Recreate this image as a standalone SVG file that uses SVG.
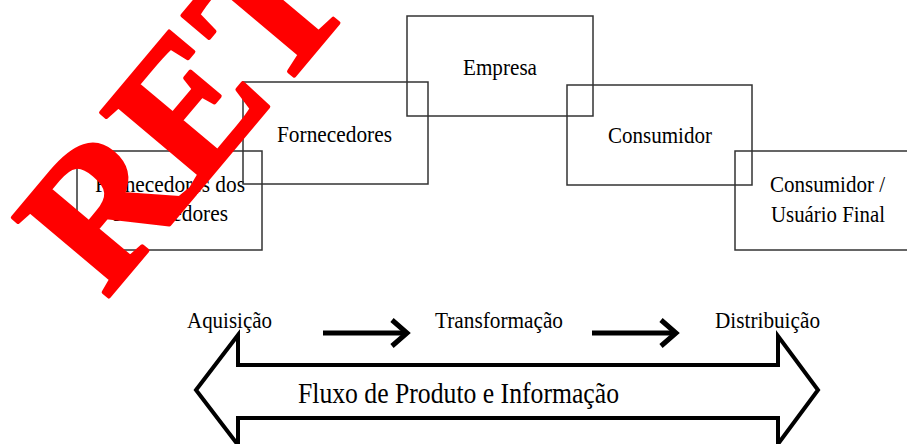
<svg xmlns="http://www.w3.org/2000/svg" width="907" height="444" viewBox="0 0 907 444">
<style>
.box{fill:none;stroke:#333;stroke-width:1.5}
.t{font-family:"Liberation Serif","Times New Roman",serif;font-size:24px;fill:#000}
.big{font-family:"Liberation Serif","Times New Roman",serif;font-size:29px;fill:#000}
.arr{fill:none;stroke:#000;stroke-width:5}
.flow{fill:#fff;stroke:#000;stroke-width:4;stroke-linejoin:miter}
.wm{font-family:"Liberation Serif","Times New Roman",serif;font-weight:bold;font-size:190px;fill:#f00;stroke:#f00;stroke-width:4;stroke-linejoin:round}
</style>
<rect width="907" height="444" fill="#fff"/>
<g id="fornecedores-dos-fornecedores">
<rect class="box" x="77" y="151" width="185" height="99"/>
<text class="t" x="95" y="192" textLength="150" lengthAdjust="spacingAndGlyphs">Fornecedores dos</text>
<text class="t" x="113" y="221" textLength="115" lengthAdjust="spacingAndGlyphs">Fornecedores</text>
</g>
<g id="fornecedores">
<rect class="box" x="243" y="82" width="185" height="102"/>
<text class="t" x="277" y="142" textLength="115" lengthAdjust="spacingAndGlyphs">Fornecedores</text>
</g>
<g id="empresa">
<rect class="box" x="407" y="16" width="186" height="100"/>
<text class="t" x="463" y="75" textLength="74" lengthAdjust="spacingAndGlyphs">Empresa</text>
</g>
<g id="consumidor">
<rect class="box" x="567" y="85" width="185" height="100"/>
<text class="t" x="608" y="143" textLength="104" lengthAdjust="spacingAndGlyphs">Consumidor</text>
</g>
<g id="consumidor-final">
<rect class="box" x="735" y="151" width="200" height="99"/>
<text class="t" x="770" y="192" textLength="115" lengthAdjust="spacingAndGlyphs">Consumidor /</text>
<text class="t" x="771" y="222" textLength="114" lengthAdjust="spacingAndGlyphs">Usuário Final</text>
</g>
<g id="stages">
<text class="t" x="187" y="328" textLength="85" lengthAdjust="spacingAndGlyphs">Aquisição</text>
<text class="t" x="435" y="328" textLength="128" lengthAdjust="spacingAndGlyphs">Transformação</text>
<text class="t" x="715" y="328" textLength="105" lengthAdjust="spacingAndGlyphs">Distribuição</text>
</g>
<g id="connectors">
<line class="arr" x1="323" y1="333" x2="404" y2="333"/>
<polyline class="arr" points="392,320 407,333 392,346"/>
<line class="arr" x1="592" y1="333" x2="673" y2="333"/>
<polyline class="arr" points="661,320 676,333 661,346"/>
<polygon class="flow" points="196,390 238,335 238,365 778,365 778,336 818,390 778,444 778,418 238,418 238,445"/>
</g>
<g id="flow-label">
<text class="big" x="298" y="403" textLength="321" lengthAdjust="spacingAndGlyphs">Fluxo de Produto e Informação</text>
</g>
<g id="watermark">
<text class="wm" x="0" y="0" transform="translate(106,300) rotate(-50)">RET</text>
</g>
</svg>
